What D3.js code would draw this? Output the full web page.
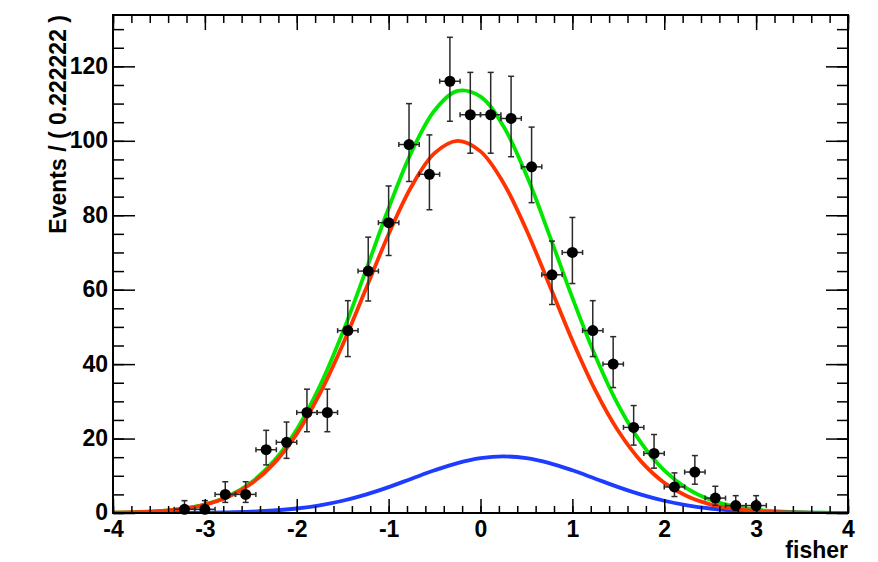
<!DOCTYPE html>
<html>
<head>
<meta charset="utf-8">
<script src="https://cdn.jsdelivr.net/npm/d3@7"></script>
<style>
  body { margin: 0; background: #fff; }
  svg text { font-family: "Liberation Sans", Arial, Helvetica, sans-serif; font-weight: bold; }
</style>
</head>
<body>
<div id="graphs"></div>
<script>
// binned data: bin centres (width 0.222222) and counts, zero bins left out
var binCentres = [-3.222, -3.0, -2.778, -2.556, -2.333, -2.111, -1.889, -1.667, -1.444, -1.222,
                  -1.0, -0.778, -0.556, -0.333, -0.111, 0.111, 0.333, 0.556, 0.778, 1.0,
                  1.222, 1.444, 1.667, 1.889, 2.111, 2.333, 2.556, 2.778, 3.0]
var counts = [1, 1, 5, 5, 17, 19, 27, 27, 49, 65,
              78, 99, 91, 116, 107, 107, 106, 93, 64, 70,
              49, 40, 23, 16, 7, 11, 4, 2, 2]
// asymmetric (poisson) error bars
var errLow = [0.83, 0.83, 2.15, 2.15, 4.08, 4.32, 5.16, 5.16, 6.97, 8.04,
              8.81, 9.93, 9.52, 10.75, 10.33, 10.33, 10.28, 9.62, 7.98, 8.35,
              6.97, 6.30, 4.76, 3.95, 2.58, 3.26, 1.91, 1.29, 1.29]
var errHigh = [2.32, 2.32, 3.40, 3.40, 5.21, 5.44, 6.27, 6.27, 8.05, 9.11,
               9.87, 10.99, 10.58, 11.81, 11.38, 11.38, 11.33, 10.68, 9.05, 9.41,
               8.05, 7.38, 5.87, 5.09, 3.78, 4.43, 3.18, 2.66, 2.66]
var halfBin = 0.111111

// fitted curves, every 0.25
var curveX = [-4, -3.75, -3.5, -3.25, -3, -2.75, -2.5, -2.25, -2, -1.75, -1.5, -1.25, -1, -0.75, -0.5, -0.25,
              0, 0.25, 0.5, 0.75, 1, 1.25, 1.5, 1.75, 2, 2.25, 2.5, 2.75, 3, 3.25, 3.5, 3.75, 4]
var totalCurve = [0.09, 0.22, 0.50, 1.11, 2.30, 4.46, 8.13, 13.94, 22.46, 34.04, 48.5, 64.99, 81.88, 97.02, 108.15, 113.4,
                  111.89, 103.89, 90.78, 74.67, 57.83, 42.18, 28.97, 18.75, 11.43, 6.56, 3.55, 1.82, 0.88, 0.40, 0.17, 0.07, 0.02]
var sigCurve = [0.09, 0.21, 0.49, 1.08, 2.22, 4.29, 7.78, 13.27, 21.25, 31.98, 45.21, 60.05, 74.92, 87.8, 96.68, 99.99,
                97.16, 88.69, 76.05, 61.26, 46.36, 32.96, 22.01, 13.81, 8.14, 4.5, 2.34, 1.15, 0.53, 0.23, 0.09, 0.04, 0.01]
var bkgCurve = [0.00, 0.01, 0.01, 0.03, 0.08, 0.17, 0.35, 0.67, 1.21, 2.06, 3.29, 4.94, 6.96, 9.22, 11.47, 13.41,
                14.73, 15.2, 14.73, 13.41, 11.47, 9.22, 6.96, 4.94, 3.29, 2.06, 1.21, 0.67, 0.35, 0.17, 0.08, 0.03, 0.01]

var xMajor = [-4, -3, -2, -1, 0, 1, 2, 3, 4]
var xMinor = d3.range(-4, 4.001, 0.2)
var yMajor = [0, 20, 40, 60, 80, 100, 120]
var yMinor = d3.range(0, 131, 5)

var sheet = {w: 878, h: 562, left: 113, right: 848, top: 15, bottom: 513}

var svg = d3.select("#graphs").append("svg")
    .attr("width", sheet.w)
    .attr("height", sheet.h)

var x = d3.scaleLinear().domain([-4, 4]).range([sheet.left, sheet.right])
var y = d3.scaleLinear().domain([0, 133.8]).range([sheet.bottom, sheet.top])

svg.append("clipPath").attr("id", "frameClip")
    .append("rect")
    .attr("x", sheet.left).attr("y", sheet.top)
    .attr("width", sheet.right - sheet.left).attr("height", sheet.bottom - sheet.top)

// curves
var line = d3.line()
    .x(function(d){ return x(d[0]) })
    .y(function(d){ return y(d[1]) })
    .curve(d3.curveCatmullRom.alpha(0.5))

var curves = [
    {vals: totalCurve, color: "#00e800"},
    {vals: bkgCurve, color: "#1e3cff"},
    {vals: sigCurve, color: "#ff3300"}
]
var curveG = svg.append("g").attr("clip-path", "url(#frameClip)")
curves.forEach(function(c){
    curveG.append("path")
        .datum(curveX.map(function(v, i){ return [v, c.vals[i]] }))
        .attr("d", line)
        .attr("fill", "none")
        .attr("stroke", c.color)
        .attr("stroke-width", 3.8)
})

// data points with error bars
var pts = binCentres.map(function(c, i){
    return {x: c, n: counts[i], lo: errLow[i], hi: errHigh[i]}
})
var ptG = svg.append("g").selectAll("g").data(pts).enter().append("g")
ptG.append("line")
    .attr("x1", function(d){ return x(d.x) }).attr("x2", function(d){ return x(d.x) })
    .attr("y1", function(d){ return y(d.n - d.lo) }).attr("y2", function(d){ return y(d.n + d.hi) })
ptG.append("line")
    .attr("x1", function(d){ return x(d.x - halfBin) }).attr("x2", function(d){ return x(d.x + halfBin) })
    .attr("y1", function(d){ return y(d.n) }).attr("y2", function(d){ return y(d.n) })
// caps
ptG.append("line")
    .attr("x1", function(d){ return x(d.x) - 3 }).attr("x2", function(d){ return x(d.x) + 3 })
    .attr("y1", function(d){ return y(d.n + d.hi) }).attr("y2", function(d){ return y(d.n + d.hi) })
ptG.append("line")
    .attr("x1", function(d){ return x(d.x) - 3 }).attr("x2", function(d){ return x(d.x) + 3 })
    .attr("y1", function(d){ return y(d.n - d.lo) }).attr("y2", function(d){ return y(d.n - d.lo) })
ptG.append("line")
    .attr("x1", function(d){ return x(d.x - halfBin) }).attr("x2", function(d){ return x(d.x - halfBin) })
    .attr("y1", function(d){ return y(d.n) - 2.5 }).attr("y2", function(d){ return y(d.n) + 2.5 })
ptG.append("line")
    .attr("x1", function(d){ return x(d.x + halfBin) }).attr("x2", function(d){ return x(d.x + halfBin) })
    .attr("y1", function(d){ return y(d.n) - 2.5 }).attr("y2", function(d){ return y(d.n) + 2.5 })
ptG.selectAll("line").attr("stroke", "#2a2a2a").attr("stroke-width", 1.5)
ptG.append("circle")
    .attr("cx", function(d){ return x(d.x) })
    .attr("cy", function(d){ return y(d.n) })
    .attr("r", 5.5)
    .attr("fill", "black")

// axes, ROOT style ticks inside the frame
var addAxis = function(axis, tx, ty, labels){
    var g = svg.append("g").attr("transform", "translate(" + tx + "," + ty + ")").call(axis)
    g.select(".domain").remove()
    g.selectAll("line").attr("stroke", "black").attr("stroke-width", 1.5)
    if (!labels) g.selectAll("text").remove()
    else g.selectAll("text").attr("font-size", 23).attr("fill", "black")
        .style("font-family", "'Liberation Sans', Arial, sans-serif").style("font-weight", "bold")
    return g
}
var fmt = function(d){ return d3.format("d")(d).replace("−", "-") }

addAxis(d3.axisBottom(x).tickValues(xMinor).tickSize(-7), 0, sheet.bottom, false)
addAxis(d3.axisBottom(x).tickValues(xMajor).tickSize(-14).tickPadding(8).tickFormat(fmt), 0, sheet.bottom, true)
addAxis(d3.axisTop(x).tickValues(xMinor).tickSize(-8), 0, sheet.top, false)
addAxis(d3.axisTop(x).tickValues(xMajor).tickSize(-15), 0, sheet.top, false)
addAxis(d3.axisLeft(y).tickValues(yMinor).tickSize(-11), sheet.left, 0, false)
var yLab = addAxis(d3.axisLeft(y).tickValues(yMajor).tickSize(-22).tickPadding(5).tickFormat(fmt), sheet.left, 0, true)
yLab.selectAll("text").attr("dy", "0.30em")
addAxis(d3.axisRight(y).tickValues(yMinor).tickSize(-11), sheet.right, 0, false)
addAxis(d3.axisRight(y).tickValues(yMajor).tickSize(-22), sheet.right, 0, false)

// frame
svg.append("rect")
    .attr("x", sheet.left).attr("y", sheet.top)
    .attr("width", sheet.right - sheet.left).attr("height", sheet.bottom - sheet.top)
    .attr("fill", "none").attr("stroke", "black").attr("stroke-width", 2)

// titles
svg.append("text")
    .attr("x", sheet.right).attr("y", 558)
    .attr("text-anchor", "end")
    .attr("font-size", 23)
    .text("fisher")
svg.append("text")
    .attr("transform", "translate(66," + sheet.top + ") rotate(-90)")
    .attr("text-anchor", "end")
    .attr("font-size", 23)
    .text("Events / ( 0.222222 )")
</script>
</body>
</html>
